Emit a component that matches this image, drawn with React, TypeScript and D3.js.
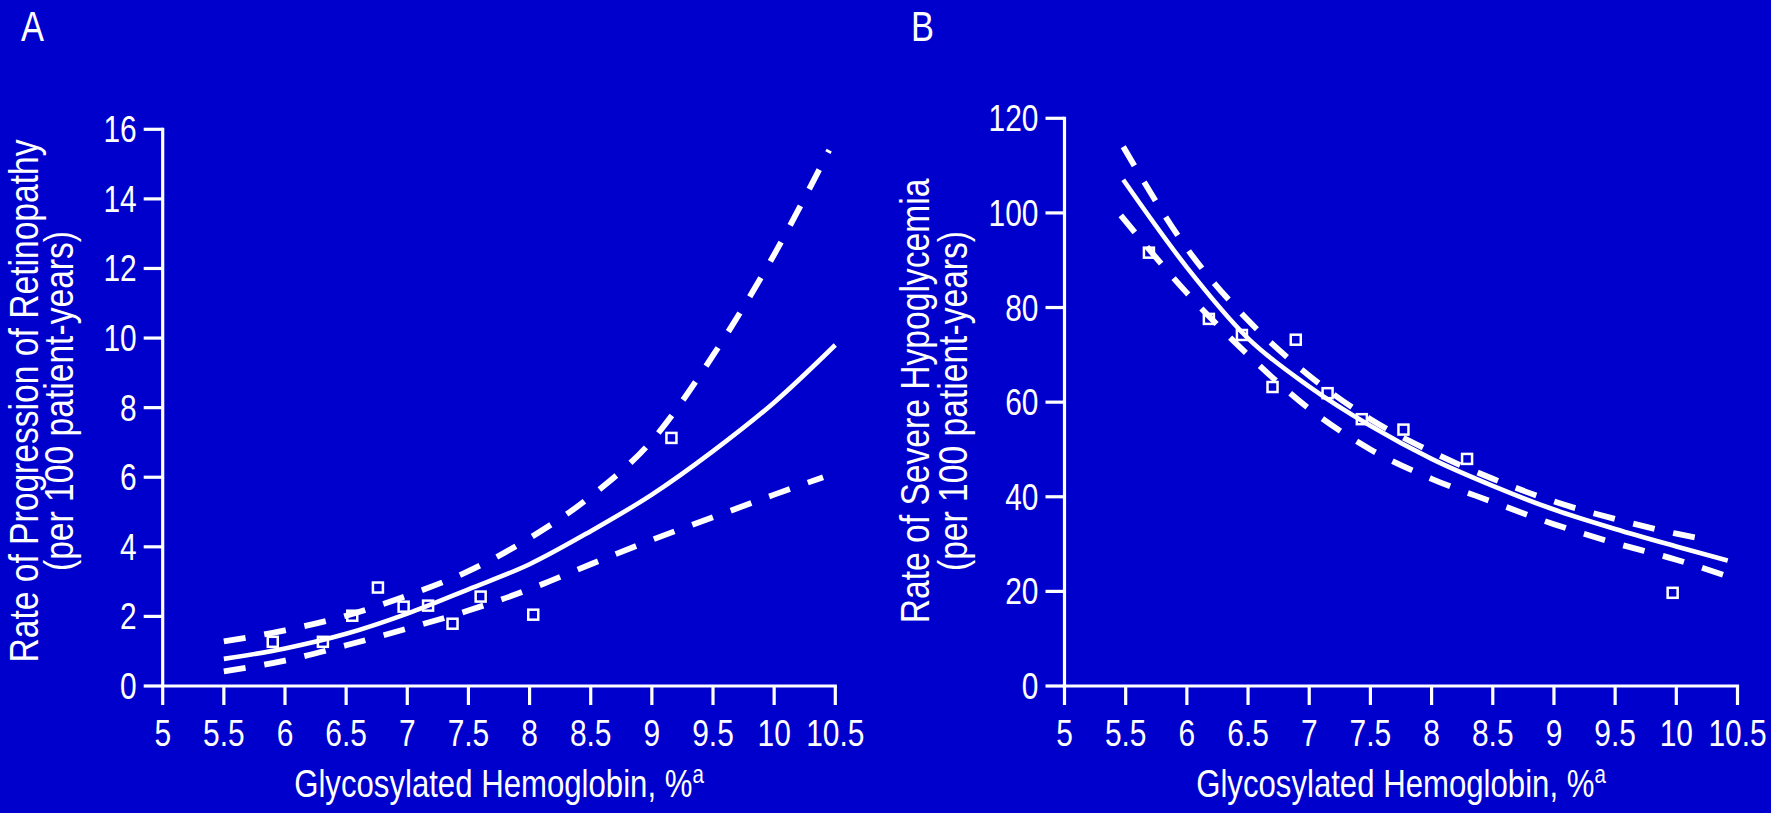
import React from 'react';
import * as d3 from 'd3';

const W = 1771;
const H = 813;
const BG = '#0000CC';
const FG = '#FFFFFF';
const FONT = '"Liberation Sans", Arial, Helvetica, sans-serif';
const NARROW = 0.82;

// Shared x axis (glycosylated hemoglobin, %)
const a1cTicks = [5, 5.5, 6, 6.5, 7, 7.5, 8, 8.5, 9, 9.5, 10, 10.5];
const a1cTickLabels = ['5', '5.5', '6', '6.5', '7', '7.5', '8', '8.5', '9', '9.5', '10', '10.5'];

// Panel A: progression of retinopathy
const retinoTicks = [0, 2, 4, 6, 8, 10, 12, 14, 16];
const retinoObsA1c = [5.9, 6.31, 6.55, 6.76, 6.97, 7.17, 7.37, 7.6, 8.03, 9.16];
const retinoObsRate = [1.27, 1.27, 2.02, 2.83, 2.28, 2.31, 1.79, 2.57, 2.05, 7.13];
const retinoFitA1c = [5.5, 6, 6.5, 7, 7.5, 8, 8.5, 9, 9.5, 10, 10.5];
const retinoFitRate = [0.78, 1.08, 1.5, 2.08, 2.78, 3.5, 4.45, 5.5, 6.75, 8.15, 9.8];
const retinoUpperA1c = [5.5, 6, 6.5, 7, 7.5, 8, 8.5, 9, 9.5, 10, 10.45];
const retinoUpperRate = [1.28, 1.6, 2.02, 2.6, 3.3, 4.25, 5.45, 7.05, 9.5, 12.4, 15.4];
const retinoLowerA1c = [5.5, 6, 6.5, 7, 7.5, 8, 8.5, 9, 9.5, 10, 10.4];
const retinoLowerRate = [0.42, 0.73, 1.17, 1.65, 2.17, 2.78, 3.5, 4.2, 4.85, 5.5, 6.0];

// Panel B: severe hypoglycemia
const hypoTicks = [0, 20, 40, 60, 80, 100, 120];
const hypoObsA1c = [5.69, 6.18, 6.45, 6.7, 6.89, 7.15, 7.43, 7.77, 8.29, 9.97];
const hypoObsRate = [91.6, 77.6, 74.2, 63.2, 73.2, 61.9, 56.4, 54.2, 48.0, 19.7];
const hypoFitA1c = [5.48, 6, 6.5, 7, 7.5, 8, 8.5, 9, 9.5, 10, 10.42];
const hypoFitRate = [107, 88.5, 73.5, 63.3, 55, 48, 42.3, 37.3, 33.2, 29.5, 26.5];
const hypoUpperA1c = [5.48, 6, 6.5, 7, 7.5, 8, 8.5, 9, 9.5, 10, 10.3];
const hypoUpperRate = [114, 92.5, 77.3, 65.6, 56.4, 49.5, 43.8, 39, 35.3, 32.2, 30.7];
const hypoLowerA1c = [5.46, 6, 6.5, 7, 7.5, 8, 8.5, 9, 9.5, 10, 10.42];
const hypoLowerRate = [99.5, 83.1, 70, 58.6, 50, 43.8, 38.9, 34.2, 30.2, 26.7, 23.2];

type PanelProps = {
  letter: string;
  letterX: number;
  x0: number;
  x1: number;
  yMax: number;
  yTop: number;
  yTicks: number[];
  titleLines: string[];
  titleX: number[];
  obsX: number[];
  obsY: number[];
  fitX: number[];
  fitY: number[];
  upX: number[];
  upY: number[];
  loX: number[];
  loY: number[];
};

const Y_ZERO = 686;
const TICK = 19;
const TITLE_MID_Y = 401;

function narrowText(
  key: string | number,
  x: number,
  y: number,
  txt: React.ReactNode,
  size: number,
  anchor: string,
  rotate = 0,
) {
  const rot = rotate ? ` rotate(${rotate})` : '';
  return (
    <text
      key={key}
      transform={`translate(${x},${y})${rot} scale(${NARROW},1)`}
      textAnchor={anchor}
      fontSize={size}
      fontFamily={FONT}
      fill={FG}
    >
      {txt}
    </text>
  );
}

function Panel(p: PanelProps) {
  const x = d3.scaleLinear().domain([5, 10.5]).range([p.x0, p.x1]);
  const y = d3.scaleLinear().domain([0, p.yMax]).range([Y_ZERO, p.yTop]);
  const line = d3
    .line<[number, number]>()
    .x((d) => x(d[0]))
    .y((d) => y(d[1]))
    .curve(d3.curveMonotoneX);
  const pts = (xs: number[], ys: number[]) => xs.map((v, i) => [v, ys[i]] as [number, number]);
  const axisMid = (p.x0 + p.x1) / 2;

  return (
    <g>
      {narrowText('letter', p.letterX, 41, p.letter, 42, 'start')}

      {/* axes */}
      <line x1={p.x0} x2={p.x0} y1={p.yTop - 1.5} y2={Y_ZERO} stroke={FG} strokeWidth={3.2} />
      <line x1={p.x0 - 1.6} x2={p.x1 + 1.6} y1={Y_ZERO} y2={Y_ZERO} stroke={FG} strokeWidth={3.2} />
      {p.yTicks.map((t) => (
        <line key={'yt' + t} x1={p.x0 - TICK} x2={p.x0} y1={y(t)} y2={y(t)} stroke={FG} strokeWidth={3.2} />
      ))}
      {p.yTicks.map((t) => narrowText('yl' + t, p.x0 - 26, y(t) + 13, String(t), 36.5, 'end'))}
      {a1cTicks.map((t) => (
        <line key={'xt' + t} x1={x(t)} x2={x(t)} y1={Y_ZERO} y2={Y_ZERO + TICK} stroke={FG} strokeWidth={3.2} />
      ))}
      {a1cTicks.map((t, i) => narrowText('xl' + t, x(t), 746, a1cTickLabels[i], 36.5, 'middle'))}

      {/* axis titles */}
      <text
        transform={`translate(${axisMid},797) scale(${NARROW},1)`}
        textAnchor="middle"
        fontSize={38}
        fontFamily={FONT}
        fill={FG}
      >
        Glycosylated Hemoglobin, %
        <tspan fontSize={25} dy={-14}>
          a
        </tspan>
      </text>
      {p.titleLines.map((s, i) => narrowText('tl' + i, p.titleX[i], TITLE_MID_Y, s, 41, 'middle', -90))}

      {/* fitted rate with confidence bounds */}
      <path d={line(pts(p.upX, p.upY)) || ''} fill="none" stroke={FG} strokeWidth={5.8} strokeDasharray="22 19" />
      <path d={line(pts(p.loX, p.loY)) || ''} fill="none" stroke={FG} strokeWidth={5.8} strokeDasharray="22 19" />
      <path d={line(pts(p.fitX, p.fitY)) || ''} fill="none" stroke={FG} strokeWidth={4.6} />

      {/* observed rates */}
      {p.obsX.map((v, i) => (
        <rect
          key={'o' + i}
          x={x(v) - 5}
          y={y(p.obsY[i]) - 5}
          width={10}
          height={10}
          fill="none"
          stroke={FG}
          strokeWidth={2.5}
        />
      ))}
    </g>
  );
}

export default function App() {
  return (
    <svg
      width={W}
      height={H}
      viewBox={`0 0 ${W} ${H}`}
      style={{ position: 'absolute', left: 0, top: 0, display: 'block' }}
    >
      <rect x={0} y={0} width={W} height={H} fill={BG} />
      <Panel
        letter="A"
        letterX={21}
        x0={162.7}
        x1={835.3}
        yMax={16}
        yTop={129.3}
        yTicks={retinoTicks}
        titleLines={['Rate of Progression of Retinopathy', '(per 100 patient-years)']}
        titleX={[38, 73]}
        obsX={retinoObsA1c}
        obsY={retinoObsRate}
        fitX={retinoFitA1c}
        fitY={retinoFitRate}
        upX={retinoUpperA1c}
        upY={retinoUpperRate}
        loX={retinoLowerA1c}
        loY={retinoLowerRate}
      />
      <Panel
        letter="B"
        letterX={911}
        x0={1064.5}
        x1={1737.5}
        yMax={120}
        yTop={118.3}
        yTicks={hypoTicks}
        titleLines={['Rate of Severe Hypoglycemia', '(per 100 patient-years)']}
        titleX={[929, 967]}
        obsX={hypoObsA1c}
        obsY={hypoObsRate}
        fitX={hypoFitA1c}
        fitY={hypoFitRate}
        upX={hypoUpperA1c}
        upY={hypoUpperRate}
        loX={hypoLowerA1c}
        loY={hypoLowerRate}
      />
    </svg>
  );
}
